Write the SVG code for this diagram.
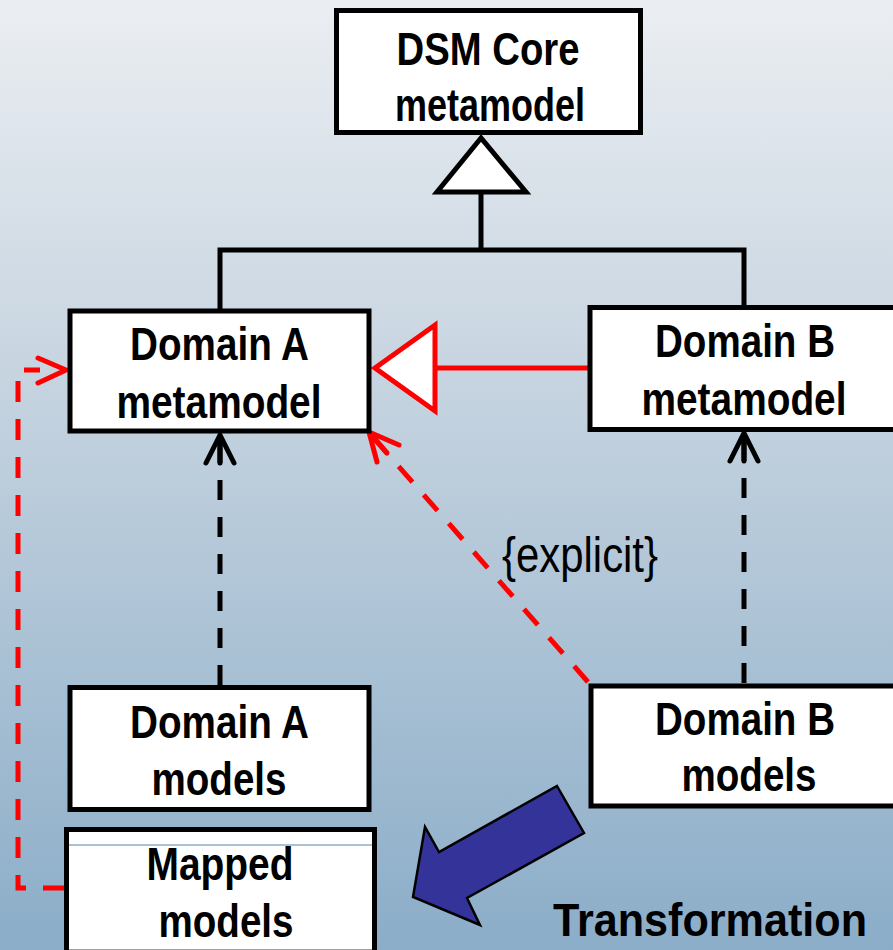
<svg xmlns="http://www.w3.org/2000/svg" width="893" height="950" viewBox="0 0 893 950">
  <defs>
    <linearGradient id="bg" x1="0" y1="0" x2="0" y2="1">
      <stop offset="0" stop-color="#ebeef2"/>
      <stop offset="0.35" stop-color="#cbd7e2"/>
      <stop offset="1" stop-color="#8badc8"/>
    </linearGradient>
    <style>
      .box { fill: #ffffff; stroke: #000000; stroke-width: 5; }
      .lbl { font-family: "Liberation Sans Narrow", "Liberation Sans", Arial, sans-serif; font-weight: bold; font-size: 47px; fill: #000000; text-anchor: middle; }
      .note { font-family: "Liberation Sans Narrow", "Liberation Sans", Arial, sans-serif; font-size: 50px; fill: #000000; }
      .solid { fill: none; stroke: #000000; stroke-width: 5; }
      .dash { fill: none; stroke: #000000; stroke-width: 5; stroke-dasharray: 20 17; }
      .rdash { fill: none; stroke: #ff0000; stroke-width: 5; stroke-dasharray: 21 17; }
      .head { fill: none; stroke-width: 5; stroke-linecap: round; stroke-linejoin: round; }
    </style>
  </defs>

  <rect x="0" y="0" width="893" height="950" fill="url(#bg)"/>

  <!-- connectors -->
  <g id="connectors">
    <!-- generalization to the core metamodel -->
    <polyline class="solid" points="220,309 220,250 744,250 744,307"/>
    <line class="solid" x1="481" y1="250" x2="481" y2="192"/>
    <polygon points="481,138 437,192 526,192" fill="#ffffff" stroke="#000000" stroke-width="5" stroke-linejoin="miter"/>

    <!-- Domain B metamodel specializes Domain A metamodel -->
    <line x1="590" y1="368" x2="435" y2="368" stroke="#ff0000" stroke-width="5"/>
    <polygon points="375,368 435,325 435,411" fill="#ffffff" stroke="#ff0000" stroke-width="5"/>

    <!-- instance-of dependencies -->
    <line class="dash" x1="220" y1="685" x2="220" y2="440"/>
    <path class="head" stroke="#000000" d="M206,463 L220,435 L234,463 M220,437 L220,463"/>
    <line class="dash" x1="744" y1="683" x2="744" y2="440"/>
    <path class="head" stroke="#000000" d="M730,461 L744,433 L758,461 M744,435 L744,461"/>

    <!-- {explicit} dependency -->
    <line class="rdash" x1="588" y1="682" x2="372" y2="436" stroke-dasharray="20 17"/>
    <path class="head" stroke="#ff0000" d="M399,445 L369,432 L377,462 M369,432 L387,453"/>
    <text class="note" x="502" y="572" textLength="156" lengthAdjust="spacingAndGlyphs">{explicit}</text>

    <!-- mapped models conform to Domain A metamodel -->
    <polyline class="rdash" points="64,888 18,888 18,370 40,370"/>
    <polyline class="head" stroke="#ff0000" points="38,358 66,370 38,383"/>
  </g>

  <g id="core">
    <rect class="box" x="336.5" y="10.5" width="304" height="122"/>
    <text class="lbl" x="488" y="65" textLength="183" lengthAdjust="spacingAndGlyphs">DSM Core</text>
    <text class="lbl" x="490" y="121" textLength="190" lengthAdjust="spacingAndGlyphs">metamodel</text>
  </g>

  <g id="domainA-meta">
    <rect class="box" x="70" y="311" width="299" height="120"/>
    <text class="lbl" x="219.5" y="360" textLength="179" lengthAdjust="spacingAndGlyphs">Domain A</text>
    <text class="lbl" x="219" y="418" textLength="205" lengthAdjust="spacingAndGlyphs">metamodel</text>
  </g>

  <g id="domainB-meta">
    <rect class="box" x="590" y="307.5" width="320" height="122"/>
    <text class="lbl" x="745" y="357" textLength="180" lengthAdjust="spacingAndGlyphs">Domain B</text>
    <text class="lbl" x="744" y="415" textLength="205" lengthAdjust="spacingAndGlyphs">metamodel</text>
  </g>

  <g id="domainA-models">
    <rect class="box" x="70" y="687.5" width="299" height="122"/>
    <text class="lbl" x="219.5" y="738" textLength="179" lengthAdjust="spacingAndGlyphs">Domain A</text>
    <text class="lbl" x="219" y="795" textLength="135" lengthAdjust="spacingAndGlyphs">models</text>
  </g>

  <g id="domainB-models">
    <rect class="box" x="591" y="686" width="320" height="120"/>
    <text class="lbl" x="745" y="735" textLength="180" lengthAdjust="spacingAndGlyphs">Domain B</text>
    <text class="lbl" x="749" y="791" textLength="135" lengthAdjust="spacingAndGlyphs">models</text>
  </g>

  <g id="mapped-models">
    <rect class="box" x="66.5" y="829.5" width="308" height="160"/>
    <line x1="69" y1="845" x2="372" y2="845" stroke="#8fadc6" stroke-width="1.5"/>
    <line x1="69" y1="949.5" x2="372" y2="949.5" stroke="#a0a0a0" stroke-width="1"/>
    <text class="lbl" x="220" y="880" textLength="147" lengthAdjust="spacingAndGlyphs">Mapped</text>
    <text class="lbl" x="226" y="937" textLength="135" lengthAdjust="spacingAndGlyphs">models</text>
  </g>

  <g id="transformation">
    <polygon points="557,786 584,833 467,898 480,925 413,897 425,827 439,852" fill="#333399" stroke="#000000" stroke-width="2.5" stroke-linejoin="miter"/>
    <text class="lbl" x="710" y="936" font-size="46" textLength="314" lengthAdjust="spacingAndGlyphs">Transformation</text>
  </g>
</svg>
